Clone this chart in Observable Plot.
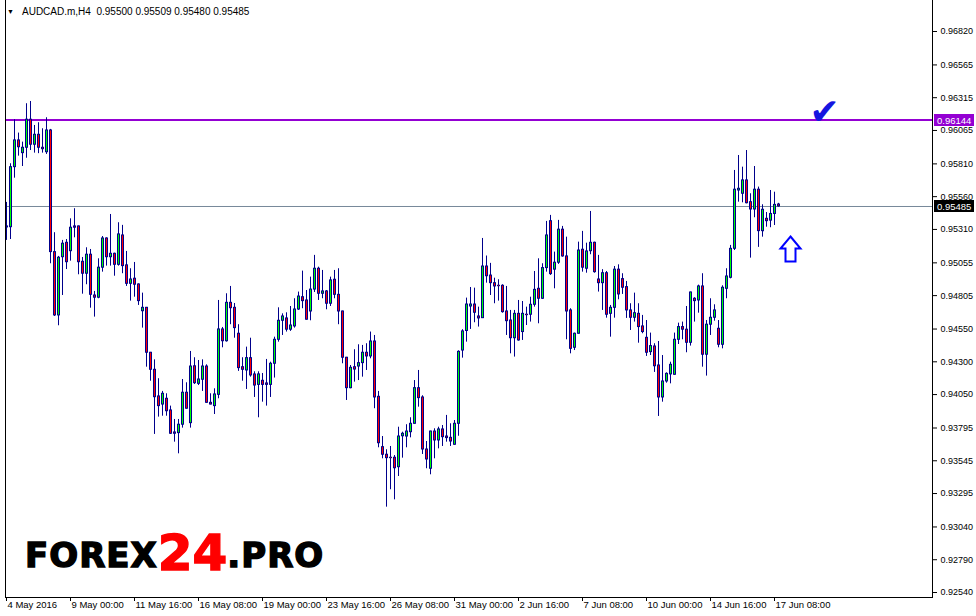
<!DOCTYPE html>
<html><head><meta charset="utf-8">
<script src="https://cdn.jsdelivr.net/npm/d3@7"></script>
<script src="https://cdn.jsdelivr.net/npm/@observablehq/plot@0.6"></script>
<style>
body{margin:0;background:#fff;}
#chart{width:976px;height:616px;}
</style></head><body><div id="chart"></div>
<script>
const symbol = "AUDCAD.m,H4";
const lastQuote = ["0.95500", "0.95509", "0.95480", "0.95485"];
const open = [0.95333,0.95327,0.95785,0.95989,0.95892,0.95933,0.96147,0.95956,0.96032,0.95933,
0.95899,0.96065,0.95137,0.94654,0.95098,0.95208,0.95144,0.95333,0.95333,0.95063,
0.94972,0.95117,0.94806,0.94789,0.95018,0.95241,0.95098,0.95124,0.95040,0.95264,
0.95036,0.94895,0.94934,0.94890,0.94686,0.94712,0.94369,0.94239,0.94036,0.93974,
0.94018,0.93929,0.93761,0.93756,0.93820,0.94064,0.93832,0.94266,0.94132,0.94163,
0.94264,0.93987,0.93962,0.94048,0.94547,0.94457,0.94750,0.94712,0.94514,0.94259,
0.94234,0.94328,0.94204,0.94124,0.94155,0.94135,0.94124,0.94285,0.94468,0.94613,
0.94631,0.94545,0.94570,0.94699,0.94793,0.94768,0.94684,0.94851,0.95010,0.94819,
0.94837,0.94743,0.94926,0.94811,0.94684,0.94331,0.94099,0.94259,0.94264,0.94290,
0.94369,0.94341,0.94455,0.94033,0.93649,0.93591,0.93568,0.93568,0.93496,0.93732,
0.93730,0.93763,0.93827,0.94099,0.94028,0.93631,0.93484,0.93768,0.93700,0.93784,
0.93730,0.93720,0.93667,0.93827,0.94386,0.94535,0.94722,0.94737,0.94646,0.94633,
0.95027,0.94958,0.94900,0.94880,0.94880,0.94684,0.94615,0.94480,0.94666,0.94527,
0.94659,0.94659,0.94735,0.94857,0.94781,0.95015,0.95373,0.95003,0.95056,0.95308,
0.95104,0.94692,0.94407,0.94514,0.95155,0.95010,0.95144,0.95208,0.94928,0.94900,
0.94976,0.94666,0.94712,0.95003,0.94931,0.94870,0.94692,0.94636,0.94666,0.94570,
0.94483,0.94374,0.94417,0.94272,0.94028,0.94150,0.94204,0.94201,0.94468,0.94565,
0.94545,0.94445,0.94781,0.94768,0.94875,0.94354,0.94583,0.94636,0.94552,0.94430,
0.94857,0.94941,0.95162,0.95607,0.95582,0.95684,0.95518,0.95462,0.95613,0.95297,
0.95391,0.95377,0.95428,0.95500];
const high = [0.95516,0.95811,0.96147,0.96045,0.95976,0.96269,0.96286,0.96103,0.96124,0.96078,
0.96162,0.96073,0.95285,0.95104,0.95226,0.95233,0.95391,0.95468,0.95336,0.95096,
0.95170,0.95157,0.94837,0.95086,0.95256,0.95246,0.95424,0.95129,0.95361,0.95341,
0.95142,0.95010,0.95058,0.94895,0.94824,0.94715,0.94372,0.94315,0.94171,0.94074,
0.94056,0.93962,0.93860,0.93860,0.94165,0.94140,0.94379,0.94331,0.94310,0.94315,
0.94277,0.94056,0.94094,0.94768,0.94562,0.94819,0.94875,0.94745,0.94583,0.94331,
0.94412,0.94480,0.94224,0.94224,0.94211,0.94318,0.94297,0.94488,0.94712,0.94666,
0.94674,0.94722,0.94781,0.94832,0.94992,0.94844,0.94946,0.95112,0.95022,0.94997,
0.94844,0.94946,0.94997,0.95010,0.94687,0.94334,0.94272,0.94392,0.94430,0.94425,
0.94438,0.94527,0.94501,0.94074,0.93730,0.93629,0.93654,0.93585,0.93801,0.93763,
0.93820,0.93873,0.94157,0.94234,0.94041,0.93692,0.93771,0.93789,0.93801,0.93814,
0.93891,0.93827,0.93852,0.94384,0.94545,0.94786,0.94867,0.94862,0.94717,0.95241,
0.95107,0.95051,0.94938,0.94926,0.94888,0.94875,0.94692,0.94692,0.94768,0.94760,
0.94717,0.94793,0.94989,0.95086,0.95048,0.95371,0.95417,0.95137,0.95379,0.95333,
0.95251,0.94705,0.94519,0.95213,0.95295,0.95205,0.95447,0.95213,0.95112,0.95003,
0.94989,0.94730,0.95027,0.95040,0.94972,0.94913,0.94743,0.94824,0.94743,0.94654,
0.94615,0.94519,0.94438,0.94455,0.94348,0.94216,0.94297,0.94519,0.94595,0.94603,
0.94722,0.94832,0.94789,0.94885,0.94972,0.94615,0.94781,0.94735,0.94615,0.94880,
0.95010,0.95188,0.95760,0.95874,0.95785,0.95912,0.95582,0.95790,0.95633,0.95498,
0.95439,0.95607,0.95594,0.95509];
const low = [0.95226,0.95233,0.95701,0.95869,0.95790,0.95853,0.95912,0.95892,0.95888,0.95892,
0.95882,0.95048,0.94646,0.94575,0.94806,0.95004,0.95068,0.95246,0.94964,0.94816,
0.94888,0.94709,0.94641,0.94781,0.94984,0.95030,0.95030,0.94953,0.95030,0.94972,
0.94875,0.94763,0.94793,0.94730,0.94557,0.94259,0.94152,0.93746,0.93878,0.93885,
0.93885,0.93746,0.93687,0.93598,0.93794,0.93939,0.93794,0.94127,0.94119,0.94074,
0.93984,0.93971,0.93898,0.94018,0.94407,0.94450,0.94583,0.94480,0.94227,0.94152,
0.94089,0.94183,0.94028,0.93873,0.93992,0.93962,0.94028,0.94176,0.94450,0.94501,
0.94527,0.94532,0.94557,0.94692,0.94705,0.94618,0.94613,0.94829,0.94768,0.94781,
0.94697,0.94722,0.94781,0.94583,0.94285,0.94005,0.94094,0.94145,0.94157,0.94183,
0.94234,0.94323,0.93942,0.93644,0.93560,0.93191,0.93324,0.93247,0.93425,0.93565,
0.93644,0.93720,0.93824,0.93954,0.93593,0.93484,0.93438,0.93560,0.93636,0.93654,
0.93687,0.93654,0.93664,0.93732,0.94328,0.94450,0.94547,0.94598,0.94565,0.94630,
0.94900,0.94806,0.94743,0.94763,0.94671,0.94501,0.94361,0.94336,0.94457,0.94463,
0.94577,0.94603,0.94717,0.94590,0.94776,0.94984,0.94959,0.94857,0.95043,0.95098,
0.94468,0.94361,0.94386,0.94511,0.94984,0.94976,0.95117,0.94976,0.94832,0.94692,
0.94633,0.94488,0.94633,0.94773,0.94814,0.94631,0.94539,0.94603,0.94442,0.94514,
0.94341,0.94348,0.94219,0.93883,0.93992,0.94137,0.94132,0.94198,0.94432,0.94468,
0.94369,0.94420,0.94603,0.94671,0.94259,0.94191,0.94501,0.94610,0.94407,0.94399,
0.94781,0.94933,0.95149,0.95518,0.95513,0.95505,0.95091,0.95399,0.95173,0.95251,
0.95327,0.95323,0.95340,0.95480];
const close = [0.95325,0.95785,0.95989,0.95937,0.95933,0.96147,0.95956,0.96032,0.95933,0.95922,
0.96065,0.95137,0.94654,0.95094,0.95201,0.95060,0.95323,0.95323,0.95060,0.94972,
0.95117,0.94811,0.94789,0.95018,0.95241,0.95098,0.95124,0.95040,0.95272,0.95030,
0.94895,0.94928,0.94888,0.94763,0.94712,0.94369,0.94239,0.94030,0.93962,0.94056,
0.93923,0.93751,0.93751,0.93820,0.94064,0.93942,0.94264,0.94137,0.94165,0.94264,
0.93987,0.93974,0.94051,0.94547,0.94457,0.94750,0.94709,0.94557,0.94252,0.94239,
0.94328,0.94196,0.94119,0.94204,0.94124,0.94124,0.94285,0.94468,0.94613,0.94646,
0.94545,0.94577,0.94699,0.94798,0.94763,0.94621,0.94851,0.95010,0.94819,0.94837,
0.94743,0.94921,0.94811,0.94684,0.94331,0.94099,0.94254,0.94241,0.94290,0.94369,
0.94341,0.94455,0.94028,0.93679,0.93591,0.93565,0.93565,0.93488,0.93730,0.93751,
0.93768,0.93827,0.94099,0.94023,0.93631,0.93555,0.93768,0.93700,0.93784,0.93725,
0.93718,0.93692,0.93827,0.94376,0.94532,0.94737,0.94737,0.94674,0.94631,0.95027,
0.94953,0.94900,0.94875,0.94877,0.94679,0.94610,0.94480,0.94666,0.94463,0.94666,
0.94656,0.94735,0.94849,0.94781,0.95015,0.95264,0.94969,0.95056,0.95308,0.95104,
0.94684,0.94399,0.94514,0.95149,0.95018,0.95142,0.95208,0.94984,0.94900,0.94976,
0.94659,0.94712,0.95003,0.94814,0.94865,0.94692,0.94636,0.94671,0.94565,0.94527,
0.94369,0.94420,0.94266,0.94028,0.94150,0.94208,0.94277,0.94468,0.94565,0.94545,
0.94445,0.94829,0.94763,0.94875,0.94354,0.94583,0.94636,0.94692,0.94430,0.94865,
0.94951,0.95162,0.95613,0.95620,0.95684,0.95510,0.95462,0.95613,0.95297,0.95460,
0.95373,0.95428,0.95497,0.95485];
const xTickIndex = [0,16,32,48,64,80,96,112,128,144,160,176,192];
const xTickLabels = ["4 May 2016","9 May 00:00","11 May 16:00","16 May 08:00","19 May 00:00","23 May 16:00","26 May 08:00","31 May 00:00","2 Jun 16:00","7 Jun 08:00","10 Jun 00:00","14 Jun 16:00","17 Jun 08:00"];
const yTicks = [0.96820,0.96565,0.96315,0.96065,0.95810,0.95560,0.95310,0.95055,0.94805,0.94550,0.94300,0.94050,0.93795,0.93545,0.93295,0.93040,0.92790,0.92540];
const resistance = 0.96144;
const bid = 0.95485;

const candles = open.map((o, i) => ({
  i, open: o, high: high[i], low: low[i], close: close[i],
  top: Math.max(o, close[i]), bottom: Math.min(o, close[i])
}));
const up = candles.filter(d => d.close >= d.open);
const down = candles.filter(d => d.close < d.open);
const navy = "#00008b";
const font = "'Liberation Sans', Arial, sans-serif";

const plot = Plot.plot({
  width: 976, height: 616,
  marginLeft: 5, marginRight: 44, marginTop: 0, marginBottom: 19,
  style: {background: "#fff", fontFamily: font, fontSize: "10px", color: "#000"},
  x: {domain: [-0.25, 231.5], ticks: xTickIndex, tickFormat: i => xTickLabels[xTickIndex.indexOf(i)], tickSize: 4, tickPadding: 0, line: true, label: null},
  y: {domain: [0.92540, 0.96820], range: [592, 31], axis: "right", ticks: yTicks, tickFormat: d => d.toFixed(5), tickSize: 4, tickPadding: 4, label: null},
  marks: [
    Plot.ruleY([resistance], {stroke: "#9400d3", strokeWidth: 2}),
    Plot.ruleY([bid], {stroke: "#778899", strokeWidth: 1}),
    Plot.ruleX(candles, {x: "i", y1: "high", y2: "low", stroke: navy, strokeWidth: 1}),
    Plot.ruleX(candles, {x: "i", y1: "top", y2: "bottom", stroke: navy, strokeWidth: 3, insetTop: -0.5, insetBottom: -0.5}),
    Plot.ruleX(up, {x: "i", y1: "top", y2: "bottom", stroke: "#00ff00", strokeWidth: 1, insetTop: 0.5, insetBottom: 0.5}),
    Plot.ruleX(down, {x: "i", y1: "top", y2: "bottom", stroke: "#ff0000", strokeWidth: 1, insetTop: 0.5, insetBottom: 0.5}),
    Plot.ruleX([-0.25], {stroke: "#000"}),
    Plot.ruleX([231.5], {stroke: "#000"}),
    Plot.text(["\u2714"], {x: () => 204.5, y: () => 0.96205, text: d => d, fontSize: 36, fill: "#1515e0", fontFamily: "DejaVu Sans"})
  ]
});

const svg = d3.select(plot);
svg.selectAll('[aria-label^="x-axis"] text').attr("text-anchor", "start").attr("dx", 1).style("font-size", "9.5px");
svg.selectAll('[aria-label^="y-axis"] text').style("font-size", "9px");

const xs = plot.scale("x"), ys = plot.scale("y");

// price boxes on the right scale
[[resistance, "#9400d3"], [bid, "#000000"]].forEach(([v, c]) => {
  const y = Math.round(ys.apply(v));
  svg.append("rect").attr("x", 934).attr("y", y - 6).attr("width", 40).attr("height", 12).attr("fill", c);
  svg.append("text").attr("x", 937).attr("y", y + 4).attr("fill", "#fff").attr("text-anchor", "start")
    .attr("font-family", font).attr("font-size", 9.5).text(v.toFixed(5));
});

// up arrow annotation
{
  const cx = Math.round(xs.apply(196)) + 0.5, ty = Math.round(ys.apply(0.95255)) + 0.5;
  svg.append("path")
    .attr("d", `M${cx},${ty} L${cx + 10},${ty + 12} L${cx + 5},${ty + 12} L${cx + 5},${ty + 25} L${cx - 5},${ty + 25} L${cx - 5},${ty + 12} L${cx - 10},${ty + 12} Z`)
    .attr("fill", "#fff").attr("stroke", "#0000ff").attr("stroke-width", 2).attr("stroke-linejoin", "miter");
}

// header
svg.append("text").attr("x", 7).attr("y", 14).attr("font-size", 7).attr("fill", "#000").attr("text-anchor", "start").text("\u25BC");
svg.append("text").attr("x", 22).attr("y", 15).attr("font-size", 10).attr("fill", "#000").attr("text-anchor", "start")
  .attr("font-family", font).attr("xml:space", "preserve").style("white-space", "pre")
  .text(symbol + "  " + lastQuote.join(" "));

// logo
const logo = svg.append("text").attr("x", 25).attr("y", 567).attr("text-anchor", "start")
  .attr("font-family", "'DejaVu Sans', sans-serif").attr("font-weight", "bold").attr("font-size", 34)
  .attr("stroke-width", 1.4).attr("letter-spacing", 1);
logo.append("tspan").attr("fill", "#000").attr("stroke", "#000").text("FOREX");
logo.append("tspan").attr("fill", "#ff0000").attr("stroke", "#ff0000").attr("font-size", 50).attr("dy", 3).attr("letter-spacing", 0).text("24");
logo.append("tspan").attr("fill", "#000").attr("stroke", "#000").attr("dy", -3).text(".PRO");

document.getElementById("chart").appendChild(plot);
</script></body></html>
